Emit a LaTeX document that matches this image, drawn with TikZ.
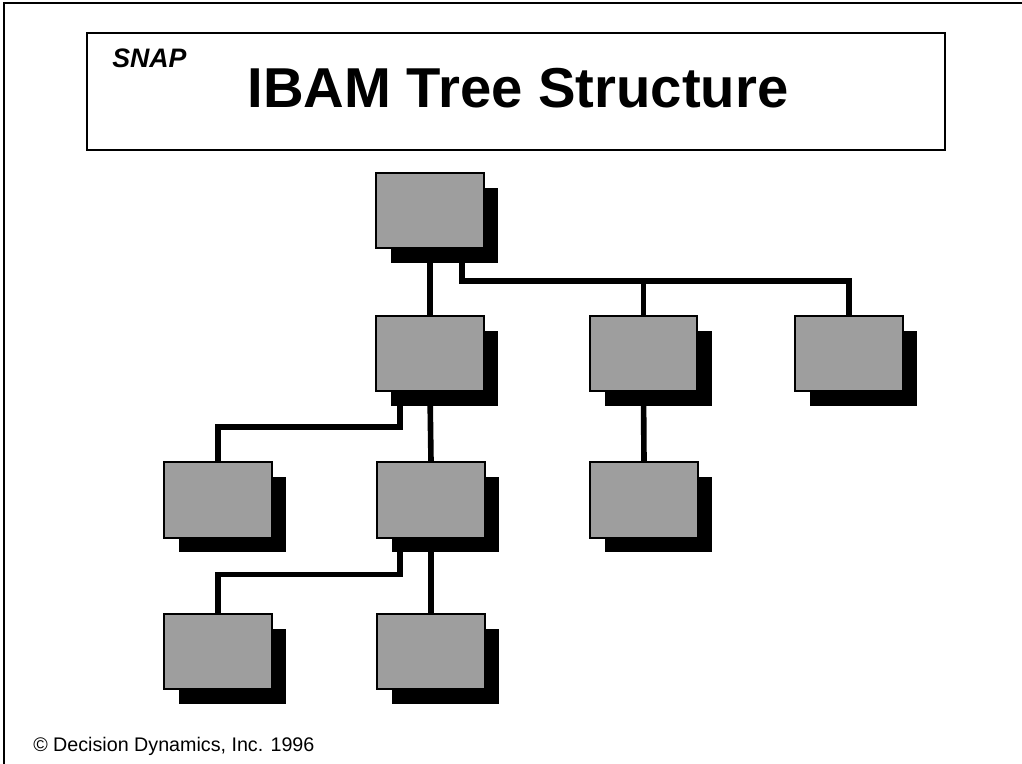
\documentclass[tikz,border=0pt]{standalone}
\usepackage{fontspec}
\setmainfont{Liberation Sans}
\usetikzlibrary{positioning,shadows}

\begin{document}
\begin{tikzpicture}
      [x=0.025cm,y=-0.025cm,
       unit/.style={rectangle,draw=black,line width=1.4pt,fill=black!38,
         minimum width=2.68cm,minimum height=1.88cm,inner sep=0pt,
         drop shadow={shadow xshift=0.37cm,shadow yshift=-0.37cm,fill=black,opacity=1}},
       link/.style={line width=4pt}]
        \useasboundingbox (0,0) rectangle (1022,764);
        \draw[line width=1.2pt] (4,764) -- (4,3) -- (1022,3);

        % title panel
        \node (panel) at (516,91.5) [draw,line width=1.2pt,minimum width=21.45cm,minimum height=2.93cm] {};
        \node (logo) at (112,67) [anchor=base west,inner sep=0pt] {\fontsize{19}{21}\selectfont\bfseries\itshape SNAP};
        \node (title) at (518,107) [anchor=base,inner sep=0pt] {\fontsize{40}{45}\selectfont\bfseries IBAM Tree Structure};

        % tree
        \node (root) at (430,210.5) [unit] {};
        \node (a) at (430,353.5) [unit] {};
        \node (b) at (643.5,353.5) [unit] {};
        \node (c) at (849,353.5) [unit] {};
        \node (d) at (218,500) [unit] {};
        \node (e) at (431,500) [unit] {};
        \node (f) at (644,500) [unit] {};
        \node (g) at (218,651.5) [unit] {};
        \node (h) at (431,651.5) [unit] {};

        \coordinate (busR) at ([xshift=0.8cm,yshift=-0.8cm]root.south);
        \coordinate (busA) at ([xshift=-0.75cm,yshift=-0.88cm]a.south);
        \coordinate (busE) at ([xshift=-0.78cm,yshift=-0.9cm]e.south);
        \draw[link] (root.south) -- (a.north);
        \draw[link] ([xshift=0.8cm]root.south) -- (busR) -| (c.north);
        \draw[link] (busR) -| (b.north);
        \draw[link] (a.south) -- (e.north);
        \draw[link] ([xshift=-0.75cm]a.south) -- (busA) -| (d.north);
        \draw[link] (b.south) -- (f.north);
        \draw[link] (e.south) -- (h.north);
        \draw[link] ([xshift=-0.78cm]e.south) -- (busE) -| (g.north);

        \node (copy) at (33,751) [anchor=base west,inner sep=0pt] {\fontsize{14}{16}\selectfont \textcopyright{} Decision Dynamics, Inc. 1996};
      \end{tikzpicture}
\end{document}
